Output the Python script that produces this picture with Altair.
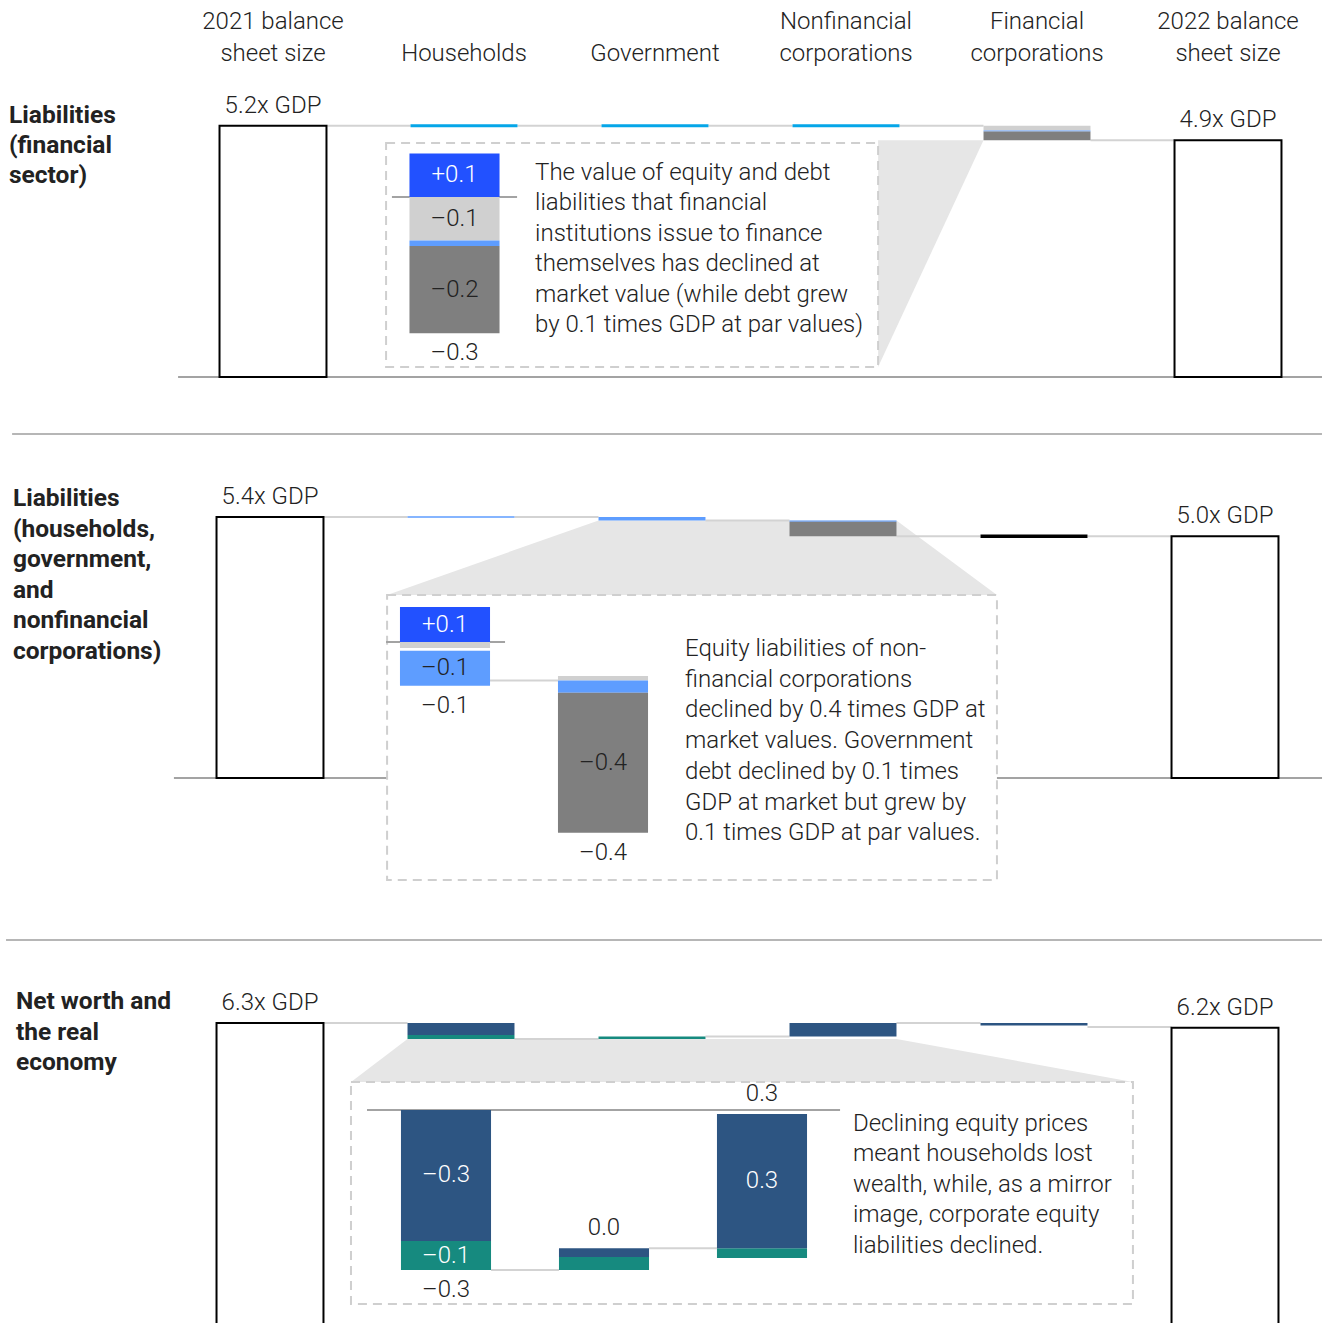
import altair as alt
import pandas as pd

# ---------------- palette & type ----------------
INK = "#222222"
NAVY = "#2D5582"
TEAL = "#168A7F"
BRIGHT = "#2251FF"
SKY = "#5E9DFF"
CYAN = "#05A6E8"
LGRAY = "#D0D0D0"
DGRAY = "#7F7F7F"
BLACK = "#000000"
LINK = "#D3D3D3"
BASE = "#A3A3A3"
SEP = "#9E9E9E"
WEDGE = "#E6E6E6"
DASH = "#CFCFCF"
FONT = "Roboto"
FS = 24
FW = 300

# ---------------- text ----------------
columns = ["2021 balance\nsheet size", "Households", "Government",
           "Nonfinancial\ncorporations", "Financial\ncorporations",
           "2022 balance\nsheet size"]

row_titles = ["Liabilities\n(financial\nsector)",
              "Liabilities\n(households,\ngovernment,\nand\nnonfinancial\ncorporations)",
              "Net worth and\nthe real\neconomy"]

notes = ["The value of equity and debt\nliabilities that financial\ninstitutions issue to finance\n"
         "themselves has declined at\nmarket value (while debt grew\nby 0.1 times GDP at par values)",
         "Equity liabilities of non-\nfinancial corporations\ndeclined by 0.4 times GDP at\n"
         "market values. Government\ndebt declined by 0.1 times\nGDP at market but grew by\n"
         "0.1 times GDP at par values.",
         "Declining equity prices\nmeant households lost\nwealth, while, as a mirror\n"
         "image, corporate equity\nliabilities declined."]

# ---------------- balance sheet totals (x GDP) ----------------
size_2021 = [5.2, 5.4, 6.3]
size_2022 = [4.9, 5.0, 6.2]

# ---------------- main waterfall: sector segments ----------------
main_col = [[4, 4, 4], [2, 3, 3], [1, 1, 2, 3, 4]]
main_from = [[5.2, 5.1, 5.08], [5.4, 5.33, 5.30], [6.3, 6.05, 5.97, 6.02, 6.3]]
main_to = [[5.1, 5.08, 4.9], [5.33, 5.30, 5.0], [6.05, 5.97, 6.02, 6.3, 6.25]]
main_fill = [[LGRAY, SKY, DGRAY], [SKY, SKY, DGRAY], [NAVY, TEAL, TEAL, NAVY, NAVY]]

# near-zero changes, drawn as a line at the running level
flat_col = [[1, 2, 3], [1, 4], []]
flat_level = [[5.2, 5.2, 5.2], [5.4, 5.0], []]
flat_color = [[CYAN, CYAN, CYAN], [SKY, BLACK], []]
flat_width = [[3, 3, 3], [1.5, 3.5], []]

# running level carried from column i to column i+1
link_level = [[5.2, 5.2, 5.2, 5.2, 4.9],
              [5.4, 5.4, 5.33, 5.0, 5.0],
              [6.3, 5.97, 6.02, 6.3, 6.22]]

# ---------------- zoomed breakdowns ----------------
inset_col = [[0, 0, 0, 0], [0, 0, 0, 1, 1, 1], [0, 0, 1, 1, 2, 2]]
inset_from = [[0, 0, -0.1, -0.1125],
              [0, 0, -0.025, -0.097, -0.11, -0.145],
              [0, -0.27, -0.33, -0.303, -0.285, -0.285]]
inset_to = [[0.1, -0.1, -0.1125, -0.3125],
            [0.1, -0.017, -0.125, -0.11, -0.145, -0.545],
            [-0.27, -0.33, -0.303, -0.285, -0.305, -0.008]]
inset_fill = [[BRIGHT, LGRAY, SKY, DGRAY],
              [BRIGHT, LGRAY, SKY, LGRAY, SKY, DGRAY],
              [NAVY, TEAL, TEAL, NAVY, TEAL, NAVY]]
inset_label = [["+0.1", "\u20130.1", "", "\u20130.2"],
               ["+0.1", "", "\u20130.1", "", "", "\u20130.4"],
               ["\u20130.3", "\u20130.1", "", "", "", "0.3"]]
inset_label_color = [["white", INK, INK, INK],
                     ["white", INK, INK, INK, INK, INK],
                     ["white"] * 6]

net_col = [[0], [0, 1], [0, 1, 2]]
net_text = [["\u20130.3"], ["\u20130.1", "\u20130.4"], ["\u20130.3", "0.0", "0.3"]]
net_at = [[-0.3125], [-0.125, -0.545], [-0.33, -0.285, -0.008]]
net_above = [[False], [False, False], [False, True, True]]

inset_link_from = [[], [0], [0, 1]]
inset_link_level = [[], [-0.11], [-0.33, -0.285]]
inset_zero_span = [[-0.396, 0.396], [-0.373, 0.38], [-0.5, 2.494]]

# ---------------- layout ----------------
W = 1328
PANEL_H = [435, 506, 382]
GDP_PX = 48.33                 # pixels per 1x GDP on the main waterfall
ZERO_ROW = [377, 343, 386.5]   # pixel row of 0x GDP inside each panel
COL_STEP = 191
COL_FIRST = [273, 270, 270]
HALF_BAR = 0.28

INSET_STEP = 158
INSET_FIRST = [454.5, 445, 446]
INSET_ZERO_ROW = [197, 207, 169]
INSET_PX = [436, 350, 485]
INSET_HALF_BAR = 0.285

box_x = [[0.592, 3.168], [0.613, 3.806], [0.424, 4.518]]
box_y = [[0.207, 4.842], [-2.110, 3.786], [0.486, 5.080]]
# zoom wedge outline, sampled left to right: x, upper edge, lower edge
wedge_x = [[3.168, 4 - HALF_BAR],
           [0.613, 2 - HALF_BAR, 3 + HALF_BAR, 3.806],
           [0.424, 1 - HALF_BAR, 3 + HALF_BAR, 4.518]]
wedge_hi = [[4.9, 4.9], [3.786, 5.33, 5.33, 3.786], [5.080, 5.97, 5.97, 5.080]]
wedge_lo = [[0.207, 4.9], [3.786, 3.786, 3.786, 3.786], [5.080, 5.080, 5.080, 5.080]]
note_xy = [(1.372, 4.076), (2.173, 2.524), (3.052, 4.066)]
note_lh = [30.4, 30.7, 30.5]
title_xy = [(-1.382, 5.256), (-1.346, 5.628), (-1.330, 6.590)]
title_lh = [30.0, 30.6, 30.5]
header_y = 6.435
header_lh = 32
base_span = [[-0.497, 5.492], [-0.503, 5.508], None]
sep_y = [-1.179, -3.352, None]
sep_span = [[-1.366, 5.492], [-1.382, 5.508], None]


def rect_layer(df, xs, ys, **mark):
    enc = dict(x=alt.X("x0:Q", scale=xs, axis=None), x2="x1:Q",
               y=alt.Y("y0:Q", scale=ys, axis=None), y2="y1:Q")
    if "fill" in df:
        enc["fill"] = alt.Fill("fill:N", scale=None, legend=None)
    return alt.Chart(df).mark_rect(**mark).encode(**enc)


def rule_layer(df, xs, ys, **mark):
    enc = dict(x=alt.X("x0:Q", scale=xs, axis=None), x2="x1:Q",
               y=alt.Y("y:Q", scale=ys, axis=None))
    if "color" in df:
        enc["color"] = alt.Color("color:N", scale=None, legend=None)
    if "w" in df:
        enc["strokeWidth"] = alt.StrokeWidth("w:Q", scale=None, legend=None)
    return alt.Chart(df).mark_rule(**mark).encode(**enc)


def text_layer(df, xs, ys, **mark):
    enc = dict(x=alt.X("x:Q", scale=xs, axis=None),
               y=alt.Y("y:Q", scale=ys, axis=None), text="text:N")
    if "color" in df:
        enc["color"] = alt.Color("color:N", scale=None, legend=None)
    style = dict(font=FONT, fontSize=FS, fontWeight=FW, color=INK, lineBreak="\n")
    style.update(mark)
    return alt.Chart(df).mark_text(**style).encode(**enc)


def panel(i):
    H = PANEL_H[i]
    xs = alt.Scale(domain=[-COL_FIRST[i] / COL_STEP, (W - COL_FIRST[i]) / COL_STEP], nice=False, zero=False)
    ys = alt.Scale(domain=[-(H - ZERO_ROW[i]) / GDP_PX, ZERO_ROW[i] / GDP_PX], nice=False, zero=False)
    ixs = alt.Scale(domain=[-INSET_FIRST[i] / INSET_STEP, (W - INSET_FIRST[i]) / INSET_STEP],
                    nice=False, zero=False)
    iys = alt.Scale(domain=[-(H - INSET_ZERO_ROW[i]) / INSET_PX[i], INSET_ZERO_ROW[i] / INSET_PX[i]],
                    nice=False, zero=False)

    main = []
    if sep_y[i] is not None:
        main.append(rule_layer(pd.DataFrame({"x0": [sep_span[i][0]], "x1": [sep_span[i][1]], "y": [sep_y[i]]}),
                               xs, ys, color=SEP, strokeWidth=1.5))
    if base_span[i] is not None:
        main.append(rule_layer(pd.DataFrame({"x0": [base_span[i][0]], "x1": [base_span[i][1]], "y": [0.0]}),
                               xs, ys, color=BASE, strokeWidth=2))

    # zoom wedge and the frame of the breakdown
    wedge = pd.DataFrame({"x": wedge_x[i], "hi": wedge_hi[i], "lo": wedge_lo[i]})
    main.append(alt.Chart(wedge).mark_area(orient="vertical", color=WEDGE).encode(
        x=alt.X("x:Q", scale=xs, axis=None), y=alt.Y("hi:Q", scale=ys, axis=None), y2="lo:Q"))
    box = pd.DataFrame({"x0": [box_x[i][0]], "x1": [box_x[i][1]], "y0": [box_y[i][0]], "y1": [box_y[i][1]]})
    main.append(rect_layer(box, xs, ys, fill="white", stroke=DASH, strokeWidth=2, strokeDash=[9, 6]))

    # connectors between columns
    links = pd.DataFrame({"x0": [c + HALF_BAR for c in range(5)],
                          "x1": [c + 1 - HALF_BAR for c in range(5)],
                          "y": link_level[i]})
    main.append(rule_layer(links, xs, ys, color=LINK, strokeWidth=2))

    # opening and closing balance sheets
    totals = pd.DataFrame({"x0": [-HALF_BAR, 5 - HALF_BAR], "x1": [HALF_BAR, 5 + HALF_BAR],
                           "y0": [0.0, 0.0], "y1": [size_2021[i], size_2022[i]]})
    main.append(rect_layer(totals, xs, ys, fill="white", stroke=BLACK, strokeWidth=2, clip=True))

    segs = pd.DataFrame({"x0": [c - HALF_BAR for c in main_col[i]],
                         "x1": [c + HALF_BAR for c in main_col[i]],
                         "y0": main_from[i], "y1": main_to[i], "fill": main_fill[i]})
    main.append(rect_layer(segs, xs, ys))

    if flat_col[i]:
        flats = pd.DataFrame({"x0": [c - HALF_BAR for c in flat_col[i]],
                              "x1": [c + HALF_BAR for c in flat_col[i]],
                              "y": flat_level[i], "color": flat_color[i], "w": flat_width[i]})
        main.append(rule_layer(flats, xs, ys))

    size_lbl = pd.DataFrame({"x": [0, 5], "y": [size_2021[i], size_2022[i]],
                             "text": [f"{size_2021[i]:.1f}x GDP", f"{size_2022[i]:.1f}x GDP"]})
    main.append(text_layer(size_lbl, xs, ys, align="center", baseline="alphabetic", dy=-13))

    if i == 0:
        hx, hy, ht = [], [], []
        for c, label in enumerate(columns):
            lines = label.split("\n")
            for k, line in enumerate(lines):
                hx.append(c)
                hy.append(header_y + (len(lines) - 1 - k) * header_lh / GDP_PX)
                ht.append(line)
        heads = pd.DataFrame({"x": hx, "y": hy, "text": ht})
        main.append(text_layer(heads, xs, ys, align="center", baseline="bottom"))

    title = pd.DataFrame({"x": [title_xy[i][0]], "y": [title_xy[i][1]], "text": [row_titles[i]]})
    main.append(text_layer(title, xs, ys, align="left", baseline="alphabetic",
                           fontWeight="bold", fontSize=24.5, lineHeight=title_lh[i]))
    note = pd.DataFrame({"x": [note_xy[i][0]], "y": [note_xy[i][1]], "text": [notes[i]]})
    main.append(text_layer(note, xs, ys, align="left", baseline="alphabetic", lineHeight=note_lh[i]))

    # ---- zoomed breakdown with its own scales ----
    inset = []
    zero = pd.DataFrame({"x0": [inset_zero_span[i][0]], "x1": [inset_zero_span[i][1]], "y": [0.0]})
    inset.append(rule_layer(zero, ixs, iys, color=BASE, strokeWidth=2))
    if inset_link_from[i]:
        il = pd.DataFrame({"x0": [c + INSET_HALF_BAR for c in inset_link_from[i]],
                           "x1": [c + 1 - INSET_HALF_BAR for c in inset_link_from[i]],
                           "y": inset_link_level[i]})
        inset.append(rule_layer(il, ixs, iys, color=LINK, strokeWidth=2))
    iseg = pd.DataFrame({"x0": [c - INSET_HALF_BAR for c in inset_col[i]],
                         "x1": [c + INSET_HALF_BAR for c in inset_col[i]],
                         "y0": inset_from[i], "y1": inset_to[i], "fill": inset_fill[i]})
    inset.append(rect_layer(iseg, ixs, iys))
    ilab = pd.DataFrame({"x": inset_col[i],
                         "y": [(a + b) / 2 for a, b in zip(inset_from[i], inset_to[i])],
                         "text": inset_label[i], "color": inset_label_color[i]})
    ilab = ilab[ilab["text"] != ""]
    inset.append(text_layer(ilab, ixs, iys, align="center", baseline="middle"))
    net = pd.DataFrame({"x": net_col[i], "y": net_at[i], "text": net_text[i], "above": net_above[i]})
    below = net[~net["above"]][["x", "y", "text"]]
    above = net[net["above"]][["x", "y", "text"]]
    if len(below):
        inset.append(text_layer(below, ixs, iys, align="center", baseline="top", dy=8))
    if len(above):
        inset.append(text_layer(above, ixs, iys, align="center", baseline="bottom", dy=-8))

    return alt.layer(alt.layer(*main), alt.layer(*inset)).resolve_scale(
        x="independent", y="independent").properties(width=W, height=H)


chart = alt.vconcat(*[panel(i) for i in range(3)], spacing=0, bounds="flush").properties(
    padding=0, background="white").configure_view(stroke=None)

chart.save("out.html", embed_options={"renderer": "svg", "actions": False})
